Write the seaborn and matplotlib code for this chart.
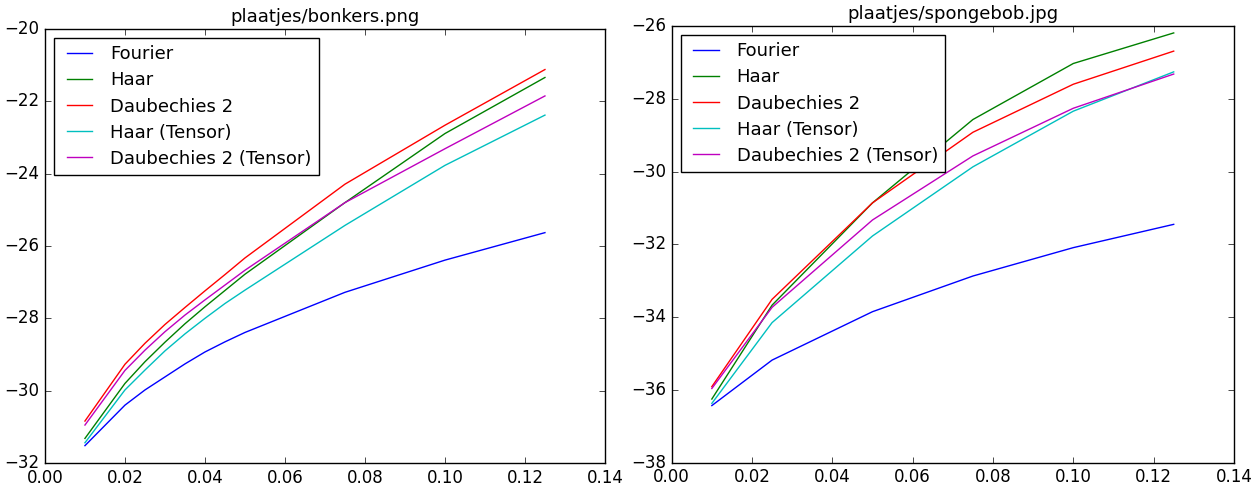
import matplotlib
matplotlib.use("Agg")
import matplotlib.pyplot as plt
import numpy as np
import pandas as pd
import seaborn as sns

methods = ["Fourier", "Haar", "Daubechies 2", "Haar (Tensor)", "Daubechies 2 (Tensor)"]
colors = ["b", "g", "r", "c", "m"]

# plaatjes/bonkers.png
x_bonkers = [0.01, 0.02, 0.025, 0.03, 0.035, 0.04, 0.045, 0.05, 0.075, 0.1, 0.125]
bonkers_fourier = [-31.52, -30.40, -29.98, -29.62, -29.26, -28.93, -28.65, -28.39, -27.28, -26.39, -25.63]
bonkers_haar = [-31.32, -29.80, -29.20, -28.66, -28.15, -27.68, -27.23, -26.78, -24.80, -22.89, -21.34]
bonkers_daub = [-30.84, -29.27, -28.69, -28.17, -27.70, -27.24, -26.79, -26.33, -24.29, -22.66, -21.12]
bonkers_haar_t = [-31.44, -29.98, -29.43, -28.90, -28.43, -28.00, -27.59, -27.22, -25.43, -23.77, -22.38]
bonkers_daub_t = [-30.95, -29.44, -28.88, -28.37, -27.91, -27.49, -27.08, -26.67, -24.80, -23.31, -21.85]

# plaatjes/spongebob.jpg
x_sponge = [0.01, 0.025, 0.05, 0.075, 0.1, 0.125]
sponge_fourier = [-36.43, -35.18, -33.85, -32.87, -32.09, -31.45]
sponge_haar = [-36.25, -33.67, -30.86, -28.57, -27.03, -26.19]
sponge_daub = [-35.91, -33.51, -30.86, -28.92, -27.60, -26.69]
sponge_haar_t = [-36.37, -34.15, -31.77, -29.87, -28.34, -27.26]
sponge_daub_t = [-35.96, -33.73, -31.33, -29.57, -28.26, -27.32]


def make_frame(x, series):
    rows = []
    for name, vals in zip(methods, series):
        for xi, yi in zip(x, vals):
            rows.append({"x": xi, "value": yi, "method": name})
    return pd.DataFrame(rows)


plt.style.use("classic")
fig = plt.figure(figsize=(12.59, 4.88), dpi=100)
fig.patch.set_facecolor("white")
ax1 = fig.add_axes([0.0357, 0.0512, 0.4448, 0.8893])
ax2 = fig.add_axes([0.5335, 0.0518, 0.4466, 0.8949])

panels = [
    (ax1, "plaatjes/bonkers.png",
     make_frame(x_bonkers, [bonkers_fourier, bonkers_haar, bonkers_daub, bonkers_haar_t, bonkers_daub_t]),
     (-32, -20)),
    (ax2, "plaatjes/spongebob.jpg",
     make_frame(x_sponge, [sponge_fourier, sponge_haar, sponge_daub, sponge_haar_t, sponge_daub_t]),
     (-38, -26)),
]

for ax, title, df, ylim in panels:
    sns.lineplot(data=df, x="x", y="value", hue="method", hue_order=methods,
                 palette=colors, errorbar=None, legend=False, linewidth=1.0, ax=ax)
    ax.set_xlim(0, 0.14)
    ax.set_ylim(*ylim)
    ax.set_xticks(np.arange(0, 0.141, 0.02))
    ax.set_xlabel("")
    ax.set_ylabel("")
    ax.set_title(title, fontsize=13)
    ax.legend(ax.get_lines()[:len(methods)], methods, loc="upper left", fontsize=13,
              labelspacing=0.45, handletextpad=0.7)

fig.savefig("out.png", dpi=100, facecolor="white")
